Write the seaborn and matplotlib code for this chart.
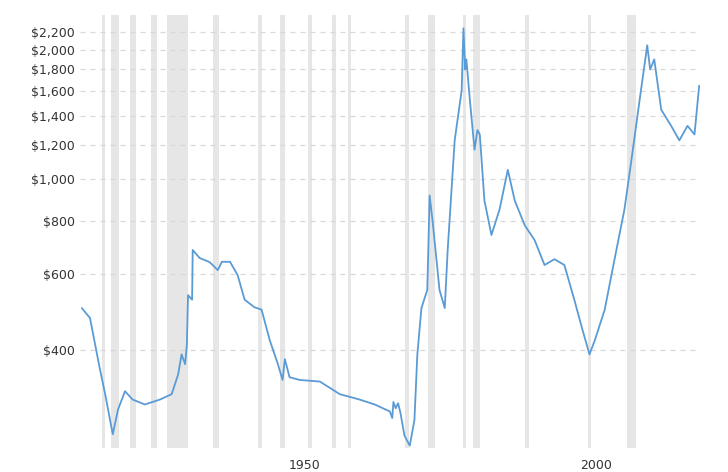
import matplotlib
matplotlib.use("Agg")
import matplotlib.pyplot as plt
import seaborn as sns
import pandas as pd
import numpy as np

years = [1911.8,1913.2,1914.9,1915.8,1917.1,1918.0,1919.2,1920.5,1922.6,1925.2,1927.2,1928.3,1928.9,1929.5,1929.8,1930.0,1930.7,1930.8,1932.0,1933.7,1935.1,1935.8,1937.2,1938.5,1939.7,1941.4,1942.6,1944.0,1945.4,1946.2,1946.6,1947.4,1949.1,1952.6,1956.0,1959.4,1962.0,1964.6,1965.0,1965.2,1965.6,1966.0,1966.4,1967.1,1968.0,1968.8,1969.3,1970.0,1971.0,1971.2,1971.4,1971.9,1973.1,1974.0,1974.5,1975.7,1976.9,1977.2,1977.5,1977.7,1978.3,1979.1,1979.6,1980.0,1980.8,1982.0,1983.4,1984.8,1986.0,1987.7,1989.4,1991.1,1992.8,1994.5,1996.2,1997.6,1998.8,1999.7,2001.4,2003.1,2004.8,2006.0,2007.4,2008.7,2009.2,2009.9,2011.1,2012.8,2014.2,2015.6,2016.8,2017.6]
prices = [500,474,360,315,254,290,320,306,298,306,315,350,390,370,411,536,523,683,654,640,613,641,641,597,523,502,496,421,370,340,380,345,340,337,315,306,298,287,277,302,292,300,285,252,239,274,390,500,551,700,915,801,551,500,683,1230,1610,2245,1800,1900,1530,1170,1300,1270,890,740,850,1050,890,780,720,630,650,630,523,445,390,420,495,650,850,1110,1530,2050,1800,1900,1450,1330,1230,1330,1270,1650]
rec_start = [1915.2,1916.8,1920.0,1923.6,1926.4,1934.2,1941.95,1945.7,1950.5,1954.6,1957.4,1967.1,1971.1,1977.2,1978.8,1987.8,1998.5,2005.3]
rec_end = [1915.8,1918.2,1921.1,1924.7,1930.0,1935.3,1942.6,1946.6,1951.2,1955.3,1958.0,1967.8,1972.4,1977.7,1980.0,1988.4,1999.1,2006.8]
ytick_vals = [400,600,800,1000,1200,1400,1600,1800,2000,2200]
ytick_labels = ["$400","$600","$800","$1,000","$1,200","$1,400","$1,600","$1,800","$2,000","$2,200"]
xtick_vals = [1950, 2000]

sns.set_style("white")
fig = plt.figure(figsize=(7.28, 4.72), dpi=100)
ax = fig.add_axes([0.11, 0.051, 0.852, 0.917])
for s, e in zip(rec_start, rec_end):
    ax.axvspan(s, e, color="#e6e6e6", lw=0, zorder=0)
df = pd.DataFrame({"year": years, "price": prices})
sns.lineplot(data=df, x="year", y="price", ax=ax, color="#5b9bd5", lw=1.3, zorder=3)
ax.set_yscale("log")
ax.set_ylim(236, 2410)
ax.set_xlim(1911.5, 2017.8)
ax.set_yticks(ytick_vals)
ax.set_yticklabels(ytick_labels)
ax.yaxis.set_minor_locator(matplotlib.ticker.NullLocator())
ax.set_xticks(xtick_vals)
ax.set_xticklabels([str(v) for v in xtick_vals])
ax.grid(axis="y", ls=(0, (4, 4)), color="#d8d8d8", lw=0.9)
ax.tick_params(length=0, labelsize=9, colors="#333333")
ax.tick_params(axis="x", pad=8)
ax.set_xlabel("")
ax.set_ylabel("")
for sp in ax.spines.values():
    sp.set_visible(False)
fig.savefig("out.png", dpi=100)
